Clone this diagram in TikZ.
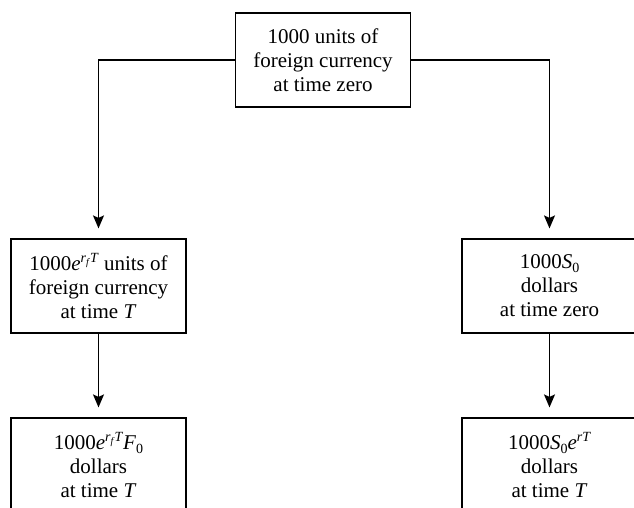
\documentclass[tikz,border=0pt]{standalone}
\usepackage{fontspec}
\setmainfont{Liberation Serif}
\usetikzlibrary{arrows.meta}
\newcommand\supr[1]{\raisebox{7.5pt}{\fontsize{14}{14}\selectfont #1}}
\newcommand\subr[1]{\raisebox{-4pt}{\fontsize{14}{14}\selectfont #1}}
\newcommand\rf{\textit{r}\raisebox{-2.5pt}{\fontsize{10}{10}\selectfont\textit{f}}}
\begin{document}
\begin{tikzpicture}[x=1pt,y=-1pt,
  box/.style={draw, line width=1.2pt, minimum width=175pt, minimum height=94pt,
    align=center, inner sep=0pt, font=\fontsize{21}{24}\selectfont},
  arr/.style={line width=1.2pt, -{Stealth[length=13pt,width=11pt,inset=2.5pt]}, shorten >=10pt}]
\useasboundingbox (0,0) rectangle (634,508);
\fill[white] (0,0) rectangle (634,508);
\node[box] (top) at (323,60) {1000 units of\\foreign currency\\at time zero};
\node[box] (lm) at (98.5,286) {1000\textit{e}\supr{\rf\textit{T}} units of\\foreign currency\\at time \textit{T}};
\node[box] (rm) at (549.5,286) {1000\textit{S}\subr{0}\\dollars\\at time zero};
\node[box] (lb) at (98.5,465) {1000\textit{e}\supr{\rf\textit{T}}\textit{F}\subr{0}\\dollars\\at time \textit{T}};
\node[box] (rb) at (549.5,465) {1000\textit{S}\subr{0}\textit{e}\supr{\textit{rT}}\\dollars\\at time \textit{T}};
\draw[arr] (top.west) -| (lm.north);
\draw[arr] (top.east) -| (rm.north);
\draw[arr] (lm.south) -- (lb.north);
\draw[arr] (rm.south) -- (rb.north);
\end{tikzpicture}
\end{document}
